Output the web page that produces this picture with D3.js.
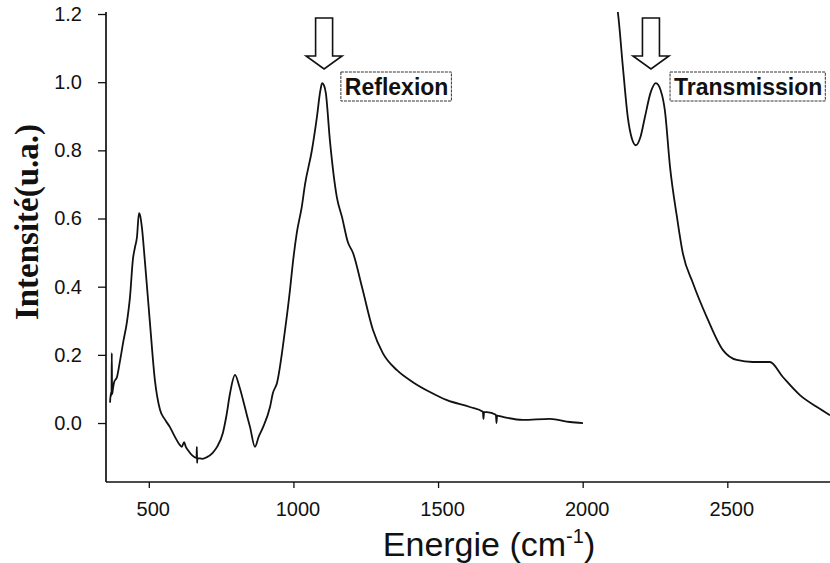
<!DOCTYPE html>
<html>
<head>
<meta charset="utf-8">
<script src="https://cdn.jsdelivr.net/npm/d3@7"></script>
<style>
  html,body{margin:0;padding:0;background:#fff;}
  svg{display:block;}
</style>
</head>
<body>
<svg id="chart" width="830" height="563"></svg>
<script>
// Reflexion spectrum (cm-1, a.u.)
const reflexionX=[366,369,371,372,373,376,380,390,400,411,425,435,445,452,459,466,471,476,487,504,521,539,556,573,590,608,614,622,628,635,650,665,666,667,668,685,701,720,736,756,768,781,798,812,826,840,850,867,880,895,919,929,943,971,988,998,1012,1029,1040,1064,1081,1093,1099,1106,1112,1126,1150,1168,1188,1206,1237,1275,1309,1358,1413,1472,1531,1610,1655,1657,1659,1669,1700,1702,1704,1724,1793,1887,1956,2001];
const reflexionY=[0.06,0.09,0.08,0.205,0.085,0.10,0.12,0.135,0.18,0.235,0.30,0.37,0.48,0.515,0.545,0.616,0.605,0.575,0.469,0.293,0.126,0.038,0.01,-0.012,-0.04,-0.065,-0.07,-0.056,-0.07,-0.079,-0.095,-0.103,-0.07,-0.117,-0.103,-0.105,-0.10,-0.088,-0.07,-0.029,0.02,0.088,0.141,0.11,0.067,0.02,-0.012,-0.07,-0.04,-0.012,0.047,0.088,0.117,0.273,0.39,0.47,0.56,0.635,0.70,0.801,0.897,0.975,0.997,0.99,0.968,0.83,0.663,0.604,0.531,0.499,0.399,0.273,0.205,0.155,0.12,0.091,0.067,0.047,0.033,0.012,0.032,0.032,0.024,0.0,0.022,0.018,0.009,0.012,0.003,0.0];

// Transmission spectrum
const transmissionX=[2110,2122,2139,2156,2170,2184,2200,2215,2235,2253,2270,2284,2302,2326,2346,2381,2429,2485,2533,2588,2647,2692,2751,2810,2855];
const transmissionY=[1.26,1.202,1.044,0.897,0.835,0.815,0.84,0.897,0.97,0.997,0.975,0.918,0.751,0.604,0.499,0.411,0.311,0.214,0.185,0.179,0.179,0.135,0.082,0.047,0.023];

const xTicks=[500,1000,1500,2000,2500];
const yTicks=[0.0,0.2,0.4,0.6,0.8,1.0,1.2];

const annotLabels=["Reflexion","Transmission"];
const arrowX=[1106,2236];
const boxX=[1164,2302];

const cfg={
  left:106,right:830,top:12,bottom:482,
  xDomain:[352,2855],
  yDomain:[-0.173,1.2059]
};

const svg=d3.select("#chart");
const x=d3.scaleLinear().domain(cfg.xDomain).range([cfg.left,cfg.right]);
const y=d3.scaleLinear().domain(cfg.yDomain).range([cfg.bottom,cfg.top]);

svg.append("rect").attr("width",830).attr("height",563).attr("fill","#fff");

svg.append("defs").append("clipPath").attr("id","plot")
  .append("rect").attr("x",cfg.left).attr("y",cfg.top)
  .attr("width",cfg.right-cfg.left).attr("height",cfg.bottom-cfg.top);

// axes
const xAxis=svg.append("g").attr("transform",`translate(0,${cfg.bottom})`)
  .call(d3.axisBottom(x).tickValues(xTicks).tickFormat(d3.format("d")).tickSize(6).tickPadding(14).tickSizeOuter(0));
const yAxis=svg.append("g").attr("transform",`translate(${cfg.left},0)`)
  .call(d3.axisLeft(y).tickValues(yTicks).tickFormat(d3.format(".1f")).tickSize(8).tickPadding(16).tickSizeOuter(0));

[xAxis,yAxis].forEach(g=>{
  g.select(".domain").attr("stroke","#111").attr("stroke-width",1.7);
  g.selectAll(".tick line").attr("stroke","#111").attr("stroke-width",1.3);
  g.selectAll(".tick text").attr("fill","#111")
    .style("font-family","'Liberation Sans',Arial,sans-serif").style("font-size","20px");
});
xAxis.select(".domain").attr("d",`M${cfg.left},0H${cfg.right}`);
yAxis.select(".domain").attr("d",`M0,${cfg.top}V${cfg.bottom}`);
xAxis.selectAll(".tick text").attr("dx",4);

// curves
const line=d3.line().x(d=>x(d[0])).y(d=>y(d[1])).curve(d3.curveMonotoneX);
const marks=svg.append("g").attr("clip-path","url(#plot)");
marks.append("path").datum(d3.zip(reflexionX,reflexionY)).attr("d",line)
  .attr("fill","none").attr("stroke","#111").attr("stroke-width",1.8);
marks.append("path").datum(d3.zip(transmissionX,transmissionY)).attr("d",line)
  .attr("fill","none").attr("stroke","#111").attr("stroke-width",1.8);

// arrows + labels
const arrowTop=18,headBase=56,tip=69,shaftW=17,headW=36;
annotLabels.forEach((label,i)=>{
  const cx=x(arrowX[i]);
  const pts=[[cx-shaftW/2,arrowTop],[cx+shaftW/2,arrowTop],[cx+shaftW/2,headBase],[cx+headW/2,headBase],
    [cx,tip],[cx-headW/2,headBase],[cx-shaftW/2,headBase]];
  svg.append("path").attr("d","M"+pts.join("L")+"Z")
    .attr("fill","#fff").attr("stroke","#111").attr("stroke-width",1.6).attr("stroke-linejoin","miter");

  const g=svg.append("g");
  const t=g.append("text").attr("x",x(boxX[i])+4).attr("y",95)
    .style("font-family","'Liberation Sans',Arial,sans-serif").style("font-weight","bold")
    .style("font-size","23px").attr("fill","#111").text(label);
  const bb=t.node().getBBox();
  g.insert("rect","text").attr("x",x(boxX[i])).attr("y",72)
    .attr("width",bb.width+7).attr("height",29)
    .attr("fill","#fff").attr("stroke","#333").attr("stroke-width",1).attr("stroke-dasharray","3,1");
});

// axis titles
svg.append("text").attr("transform","translate(38,222) rotate(-90)").attr("text-anchor","middle")
  .style("font-family","'Liberation Serif','Times New Roman',serif").style("font-weight","bold")
  .style("font-size","33px").attr("fill","#111").text("Intensité(u.a.)");

const xt=svg.append("text").attr("x",489).attr("y",556).attr("text-anchor","middle")
  .style("font-family","'Liberation Sans',Arial,sans-serif").style("font-size","34px").attr("fill","#111");
xt.append("tspan").text("Energie (cm");
xt.append("tspan").attr("dy",-13).style("font-size","20px").text("-1");
xt.append("tspan").attr("dy",13).text(")");
</script>
</body>
</html>
